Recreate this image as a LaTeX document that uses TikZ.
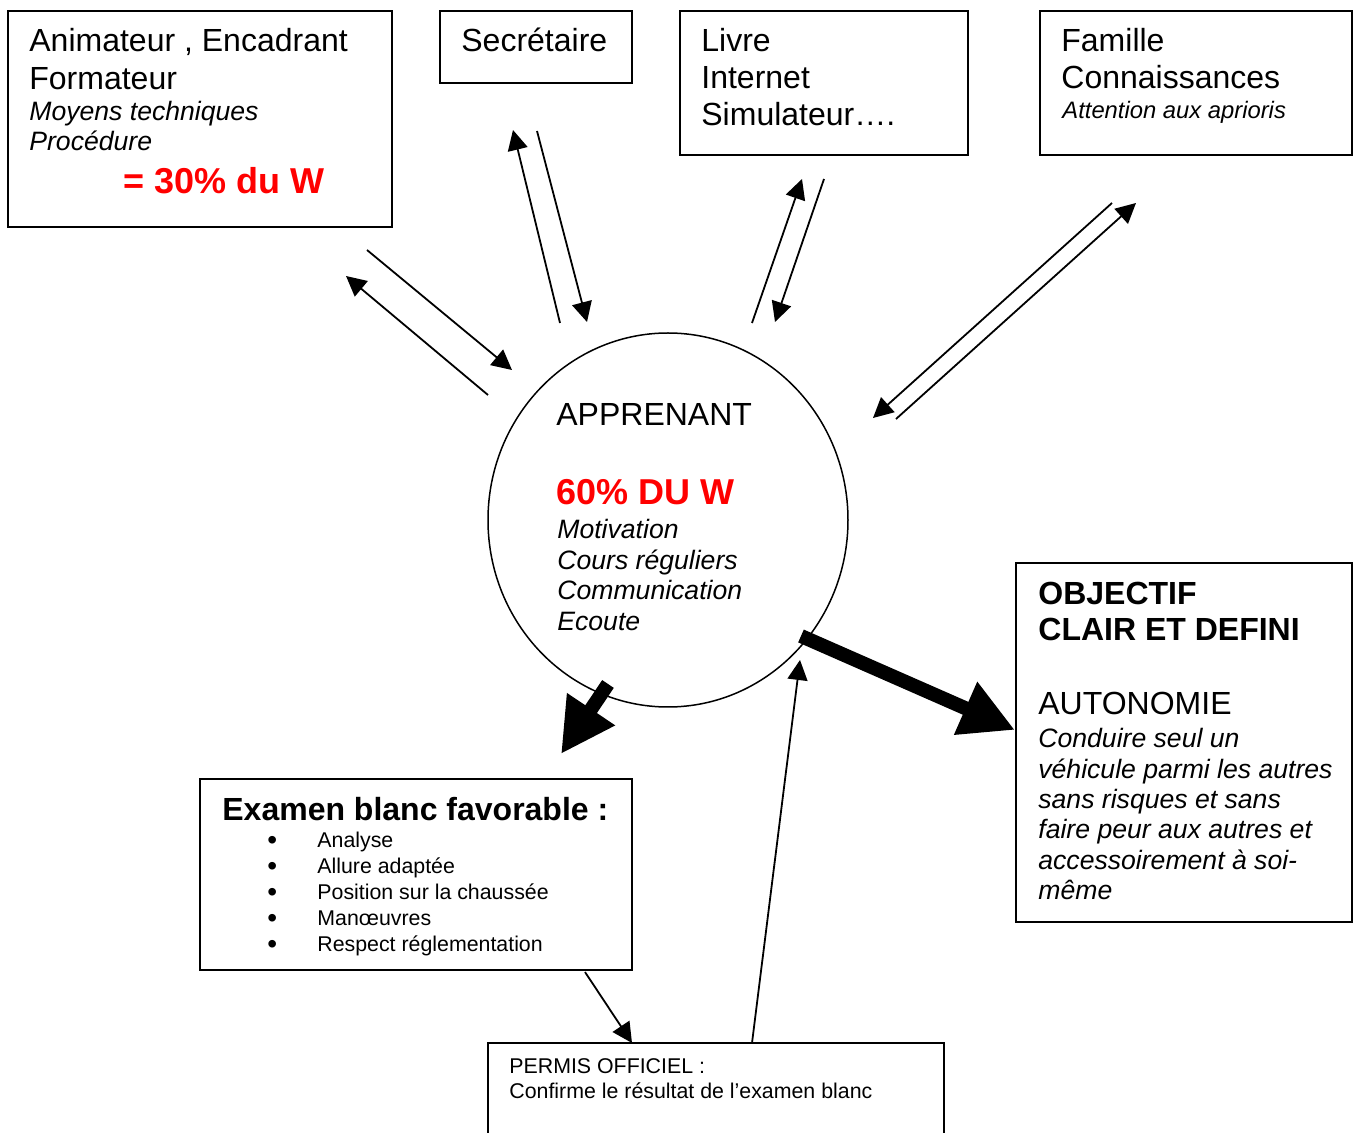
\documentclass[tikz,border=0pt]{standalone}
\usepackage{fontspec}
\setmainfont{Liberation Sans}
\usetikzlibrary{arrows.meta,shapes.geometric}
\begin{document}
\begin{tikzpicture}[x=0.5pt,y=-0.5pt,
  box/.style={draw, line width=1pt, anchor=north west, inner sep=0pt, outer sep=0pt},
  txt/.style={anchor=base west, inner sep=0pt},
  big/.style={txt, font=\fontsize{16}{19}\selectfont},
  ital/.style={txt, font=\fontsize{13.3}{16}\selectfont\itshape},
  itals/.style={txt, font=\fontsize{11.9}{14}\selectfont\itshape},
  redb/.style={txt, text=red, font=\fontsize{18}{21}\selectfont\bfseries},
  bigb/.style={txt, font=\fontsize{16}{19}\selectfont\bfseries},
  small/.style={txt, font=\fontsize{10.67}{13}\selectfont},
  bull/.style={txt, font=\fontsize{14}{16}\selectfont},
  thinarrow/.style={line width=0.9pt, -{Triangle[length=10pt,width=10pt]}},
  bigarrow/.style={line width=7pt, -{Triangle[length=27pt,width=27pt]}}
]
\useasboundingbox (0,0) rectangle (1357,1133);
\fill[white] (0,0) rectangle (1357,1133);

% boxes
\node[box, minimum width=192pt, minimum height=108pt] (anim) at (8,11) {};
\node[box, minimum width=96pt, minimum height=36pt] (sec) at (440,11) {};
\node[box, minimum width=144pt, minimum height=72pt] (livre) at (680,11) {};
\node[box, minimum width=156pt, minimum height=72pt] (fam) at (1040,11) {};
\node[box, minimum width=168pt, minimum height=179.5pt] (obj) at (1016,563) {};
\node[box, minimum width=216pt, minimum height=95.5pt] (exam) at (200,779) {};
\node[box, minimum width=228pt, minimum height=55pt] (permis) at (488,1043) {};
\node[draw, ellipse, line width=0.75pt, inner sep=0pt, outer sep=0pt, minimum width=180pt, minimum height=187pt] (app) at (668,520) {};

% texts: Animateur
\node[big] (t1) at (29,52) {Animateur , Encadrant};
\node[big] (t2) at (29,90) {Formateur};
\node[ital] (t3) at (29,121) {Moyens techniques};
\node[ital] (t4) at (29,151) {Procédure};
\node[redb] (t5) at (123,193.5) {= 30\% du W};
% Secretaire
\node[big] (t6) at (461,52) {Secrétaire};
% Livre
\node[big] (t7) at (701,52) {Livre};
\node[big] (t8) at (701,89) {Internet};
\node[big] (t9) at (701,126) {Simulateur….};
% Famille
\node[big] (t10) at (1061,52) {Famille};
\node[big] (t11) at (1061,89) {Connaissances};
\node[itals] (t12) at (1062,119) {Attention aux aprioris};
% Apprenant
\node[big] (t13) at (556,426) {APPRENANT};
\node[redb] (t14) at (556,505) {60\% DU W};
\node[ital] (t15) at (557,539) {Motivation};
\node[ital] (t16) at (557,569.5) {Cours réguliers};
\node[ital] (t17) at (557,600) {Communication};
\node[ital] (t18) at (557,630.5) {Ecoute};
% Objectif
\node[bigb] (t19) at (1038,605) {OBJECTIF};
\node[bigb] (t20) at (1038,641) {CLAIR ET DEFINI};
\node[big] (t21) at (1038,715) {AUTONOMIE};
\node[ital] (t22) at (1038,748) {Conduire seul un};
\node[ital] (t23) at (1038,778.3) {véhicule parmi les autres};
\node[ital] (t24) at (1038,808.6) {sans risques et sans};
\node[ital] (t25) at (1038,839) {faire peur aux autres et};
\node[ital] (t26) at (1038,869.3) {accessoirement à soi-};
\node[ital] (t27) at (1038,899.6) {même};
% Examen
\node[bigb] (t28) at (222,821) {Examen blanc favorable :};
\node[bull] (b1) at (267,850) {•};
\node[bull] (b2) at (267,876) {•};
\node[bull] (b3) at (267,902) {•};
\node[bull] (b4) at (267,928) {•};
\node[bull] (b5) at (267,954) {•};
\node[small] (t29) at (317,848) {Analyse};
\node[small] (t30) at (317,874) {Allure adaptée};
\node[small] (t31) at (317,900) {Position sur la chaussée};
\node[small] (t32) at (317,926) {Manœuvres};
\node[small] (t33) at (317,952) {Respect réglementation};
% Permis
\node[small] (t34) at (509,1074) {PERMIS OFFICIEL :};
\node[small] (t35) at (509,1099) {Confirme le résultat de l’examen blanc};

% connector endpoints
\coordinate (a1s) at (367,250); \coordinate (a1e) at (512,370);
\coordinate (a2s) at (488,395); \coordinate (a2e) at (346,276);
\coordinate (a3s) at (560,323); \coordinate (a3e) at (513,130);
\coordinate (a4s) at (537,131); \coordinate (a4e) at (587,322);
\coordinate (a5s) at (752,323); \coordinate (a5e) at (802,179);
\coordinate (a6s) at (824,179); \coordinate (a6e) at (775,322);
\coordinate (a7s) at (1112,203); \coordinate (a7e) at (873,418);
\coordinate (a8s) at (896,419); \coordinate (a8e) at (1136,203);
\coordinate (a9s) at (585,972); \coordinate (a9e) at (632,1043);
\coordinate (a10s) at (752,1043); \coordinate (a10e) at (800,660);
\coordinate (k1s) at (608,684); \coordinate (k1e) at (561,754);
\coordinate (k2s) at (801,636); \coordinate (k2e) at (1015,730);

\draw[thinarrow] (a1s) -- (a1e);
\draw[thinarrow] (a2s) -- (a2e);
\draw[thinarrow] (a3s) -- (a3e);
\draw[thinarrow] (a4s) -- (a4e);
\draw[thinarrow] (a5s) -- (a5e);
\draw[thinarrow] (a6s) -- (a6e);
\draw[thinarrow] (a7s) -- (a7e);
\draw[thinarrow] (a8s) -- (a8e);
\draw[thinarrow] (a9s) -- (a9e);
\draw[thinarrow] (a10s) -- (a10e);
\draw[bigarrow] (k1s) -- (k1e);
\draw[bigarrow] (k2s) -- (k2e);
\end{tikzpicture}
\end{document}
